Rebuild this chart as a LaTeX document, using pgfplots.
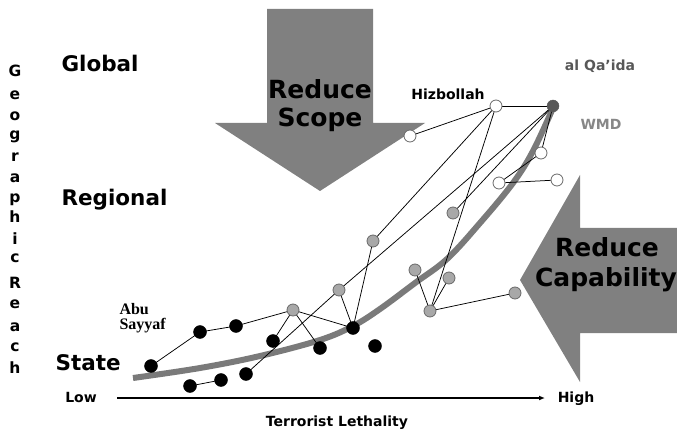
\documentclass[border=0pt]{standalone}
\usepackage{fontspec}
\setmainfont{DejaVu Sans}
\newfontfamily\timesb{Liberation Serif}
\usepackage{pgfplots}
\pgfplotsset{compat=1.18}
\usetikzlibrary{arrows.meta}
\definecolor{arrowgray}{RGB}{128,128,128}
\definecolor{curvegray}{RGB}{122,122,122}
\definecolor{ptgray}{RGB}{168,168,168}
\definecolor{ptedge}{RGB}{105,105,105}
\definecolor{aqgray}{RGB}{88,88,88}
\definecolor{wmdgray}{RGB}{135,135,135}
\tikzset{
 edge/.style={black, line width=0.75pt},
 big/.style={font=\fontsize{21.5}{24}\selectfont\bfseries},
 huge/.style={font=\fontsize{25}{28}\selectfont\bfseries},
 small/.style={font=\fontsize{14}{16}\selectfont\bfseries},
 vlet/.style={font=\fontsize{15.5}{16}\selectfont\bfseries, anchor=base},
}
\begin{document}
\begin{tikzpicture}
\begin{axis}[
 width=677pt, height=430pt, scale only axis,
 xmin=0, xmax=677, ymin=0, ymax=430, y dir=reverse,
 hide axis, clip=false,
]
% arrows
\addplot[fill=arrowgray, draw=none] coordinates {(267,9) (373,9) (373,123) (425,123) (320,191) (215,123) (267,123) (267,9)};
\addplot[fill=arrowgray, draw=none] coordinates {(677,228) (580,228) (580,175) (520,280) (580,382) (580,333) (677,333) (677,228)};
% trend curve
\addplot[curvegray, line width=6pt, smooth, tension=0.6, mark=none] coordinates {(133,378) (200,368) (260,356) (320,340) (353,326) (380,309) (415,283) (447,259) (480,223) (513,183) (533,151) (553,108)};
% links
\addplot[edge, mark=none] coordinates {(151,366) (200,332)};
\addplot[edge, mark=none] coordinates {(200,332) (236,326)};
\addplot[edge, mark=none] coordinates {(236,326) (293,310)};
\addplot[edge, mark=none] coordinates {(293,310) (273,341)};
\addplot[edge, mark=none] coordinates {(293,310) (320,348)};
\addplot[edge, mark=none] coordinates {(293,310) (353,328)};
\addplot[edge, mark=none] coordinates {(190,386) (221,380)};
\addplot[edge, mark=none] coordinates {(246,374) (339,290)};
\addplot[edge, mark=none] coordinates {(339,290) (553,106)};
\addplot[edge, mark=none] coordinates {(339,290) (353,328)};
\addplot[edge, mark=none] coordinates {(373,241) (353,328)};
\addplot[edge, mark=none] coordinates {(373,241) (496,106)};
\addplot[edge, mark=none] coordinates {(496,106) (410,136)};
\addplot[edge, mark=none] coordinates {(496,106) (553,106)};
\addplot[edge, mark=none] coordinates {(496,106) (430,311)};
\addplot[edge, mark=none] coordinates {(553,106) (453,213)};
\addplot[edge, mark=none] coordinates {(553,106) (541,153)};
\addplot[edge, mark=none] coordinates {(541,153) (499,183)};
\addplot[edge, mark=none] coordinates {(499,183) (557,180)};
\addplot[edge, mark=none] coordinates {(415,270) (430,311)};
\addplot[edge, mark=none] coordinates {(449,278) (430,311)};
\addplot[edge, mark=none] coordinates {(430,311) (515,293)};
% points
\addplot[only marks, mark=*, mark size=6.5pt, mark options={fill=black, draw=black}] coordinates {(151,366) (200,332) (236,326) (273,341) (320,348) (353,328) (375,346) (190,386) (221,380) (246,374)};
\addplot[only marks, mark=*, mark size=6pt, mark options={fill=ptgray, draw=ptedge, line width=0.8pt}] coordinates {(293,310) (339,290) (373,241) (453,213) (415,270) (449,278) (430,311) (515,293)};
\addplot[only marks, mark=*, mark size=6pt, mark options={fill=white, draw=ptedge, line width=0.8pt}] coordinates {(496,106) (410,136) (541,153) (499,183) (557,180)};
\addplot[only marks, mark=*, mark size=6pt, mark options={fill=aqgray, draw=aqgray}] coordinates {(553,106)};
% x axis arrow
\draw[black, line width=1.2pt, -{Latex[length=6pt,width=5pt]}] (axis cs:117,398) -- (axis cs:545,398);
% labels
\node[big, anchor=base west] at (axis cs:58,72) {Global};
\node[big, anchor=base west] at (axis cs:58,206) {Regional};
\node[big, anchor=base west] at (axis cs:52,370) {State};
\node[huge, anchor=base] at (axis cs:320,99) {Reduce};
\node[huge, anchor=base] at (axis cs:320,127) {Scope};
\node[huge, anchor=base] at (axis cs:607,257) {Reduce};
\node[huge, anchor=base] at (axis cs:606,287) {Capability};
\node[small, anchor=base] at (axis cs:448,100) {Hizbollah};
\node[small, anchor=base, text=aqgray] at (axis cs:600,71) {al Qa’ida};
\node[small, anchor=base, text=wmdgray] at (axis cs:601,130) {WMD};
\node[anchor=base west, font=\timesb\fontsize{16}{16}\selectfont\bfseries] at (axis cs:116,314) {Abu};
\node[anchor=base west, font=\timesb\fontsize{16}{16}\selectfont\bfseries] at (axis cs:116,329) {Sayyaf};
\node[small, anchor=base] at (axis cs:81,402) {Low};
\node[small, anchor=base] at (axis cs:576,402) {High};
\node[small, anchor=base] at (axis cs:337,426) {Terrorist Lethality};
% vertical axis title
\node[vlet] at (axis cs:15,77) {G};
\node[vlet] at (axis cs:15,100) {e};
\node[vlet] at (axis cs:15,121) {o};
\node[vlet] at (axis cs:15,140) {g};
\node[vlet] at (axis cs:15,162) {r};
\node[vlet] at (axis cs:15,183) {a};
\node[vlet] at (axis cs:15,203) {p};
\node[vlet] at (axis cs:15,223) {h};
\node[vlet] at (axis cs:15,245) {i};
\node[vlet] at (axis cs:15,262) {c};
\node[vlet] at (axis cs:15,288) {R};
\node[vlet] at (axis cs:15,308) {e};
\node[vlet] at (axis cs:15,331) {a};
\node[vlet] at (axis cs:15,351) {c};
\node[vlet] at (axis cs:15,373) {h};
\end{axis}
\pgfresetboundingbox
\path[use as bounding box] (current axis.south west) rectangle (current axis.north east);
\end{tikzpicture}
\end{document}
